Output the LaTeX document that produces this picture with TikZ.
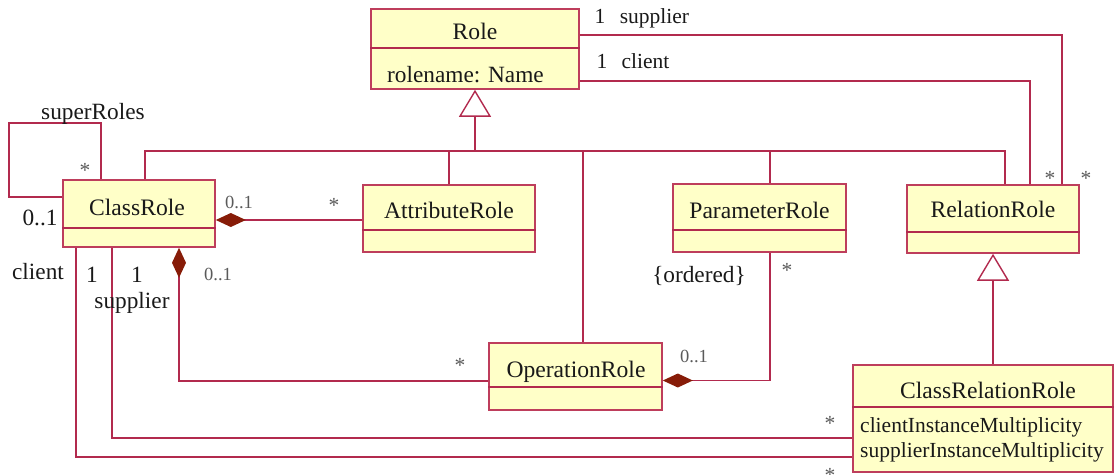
\documentclass[tikz,border=0pt]{standalone}
\usepackage{fontspec}
\setmainfont{Liberation Serif}
\usetikzlibrary{arrows.meta}
\definecolor{umlline}{RGB}{178,42,78}
\definecolor{umlborder}{RGB}{190,62,92}
\definecolor{umlfill}{RGB}{255,255,200}
\definecolor{umldiamond}{RGB}{135,28,8}
\definecolor{umltext}{RGB}{25,25,25}
\definecolor{umlmult}{RGB}{90,90,90}
\begin{document}
\begin{tikzpicture}[x=1pt,y=-1pt,
  umlbox/.style={draw=umlborder, fill=umlfill, line width=1.6pt, inner sep=0pt},
  divider/.style={draw=umlline, line width=1.4pt},
  conn/.style={draw=umlline, line width=1.4pt},
  comp/.style={conn, {Diamond[length=30pt,width=14pt,color=umldiamond,fill=umldiamond]}-},
  gen/.style={conn, -{Triangle[length=27pt,width=32pt,fill=white]}},
  cname/.style={font=\fontsize{23.6}{27}\selectfont, text=umltext, anchor=base, inner sep=0pt},
  attrtext/.style={font=\fontsize{21.5}{25}\selectfont, text=umltext, anchor=base west, inner sep=0pt},
  lbl/.style={font=\fontsize{23.3}{27}\selectfont, text=umltext, anchor=base, inner sep=0pt},
  toplbl/.style={font=\fontsize{21.5}{25}\selectfont, text=umltext, anchor=base, inner sep=0pt},
  smalllbl/.style={font=\fontsize{18.5}{22}\selectfont, text=umlmult, anchor=base, inner sep=0pt},
  star/.style={font=\fontsize{21.5}{25}\selectfont, text=umlmult, anchor=base, inner sep=0pt},
]
\useasboundingbox (0,0) rectangle (1115,474);

% ---- classes ----
\node[umlbox, minimum width=208pt, minimum height=80pt] (role) at (475,49) {};
\draw[divider] (role.west |- 0,48) -- (role.east |- 0,48);
\node[cname] (roleT) at (475,39) {Role};
\node[attrtext, font=\fontsize{23.3}{27}\selectfont] (roleA) at (387,82) {rolename: Name};

\node[umlbox, minimum width=152pt, minimum height=67pt] (classrole) at (139,213.5) {};
\draw[divider] (classrole.west |- 0,228) -- (classrole.east |- 0,228);
\node[cname] (classroleT) at (137,215) {ClassRole};

\node[umlbox, minimum width=172pt, minimum height=67pt] (attr) at (449,218.5) {};
\draw[divider] (attr.west |- 0,230) -- (attr.east |- 0,230);
\node[cname] (attrT) at (449,218) {AttributeRole};

\node[umlbox, minimum width=173pt, minimum height=68pt] (param) at (759.5,218) {};
\draw[divider] (param.west |- 0,230) -- (param.east |- 0,230);
\node[cname] (paramT) at (759.5,218) {ParameterRole};

\node[umlbox, minimum width=172pt, minimum height=68pt] (relrole) at (993,219) {};
\draw[divider] (relrole.west |- 0,232) -- (relrole.east |- 0,232);
\node[cname] (relroleT) at (993,217) {RelationRole};

\node[umlbox, minimum width=173pt, minimum height=67pt] (oprole) at (575.5,376.5) {};
\draw[divider] (oprole.west |- 0,387) -- (oprole.east |- 0,387);
\node[cname] (oproleT) at (576,377) {OperationRole};

\node[umlbox, minimum width=260pt, minimum height=107pt] (crr) at (983,418.5) {};
\draw[divider] (crr.west |- 0,407) -- (crr.east |- 0,407);
\node[cname] (crrT) at (988,398) {ClassRelationRole};
\node[attrtext] (crrA1) at (860,432) {clientInstanceMultiplicity};
\node[attrtext] (crrA2) at (860,457) {supplierInstanceMultiplicity};

% ---- generalization to Role ----
\coordinate (bus) at (475,151);
\draw[gen] (bus) -- (role.south);
\draw[conn] ([xshift=6pt]classrole.north) |- (bus) -| ([xshift=12pt]relrole.north);
\draw[conn] (bus) -| (attr.north);
\draw[conn] (bus) -| ([xshift=7.5pt]oprole.north);
\draw[conn] (bus) -| ([xshift=10.5pt]param.north);

% ---- generalization to RelationRole ----
\draw[gen] (crr.north -| relrole.south) -- (relrole.south);

% ---- supplier / client associations of Role ----
\draw[conn] ([yshift=14pt]role.east) -| ([xshift=69pt]relrole.north);
\draw[conn] ([yshift=-32pt]role.east) -| ([xshift=37pt]relrole.north);
\node[toplbl] (rs1) at (600,23) {1};
\node[toplbl] (rs2) at (654.5,23) {supplier};
\node[toplbl] (rc1) at (602,68) {1};
\node[toplbl] (rc2) at (645.5,68) {client};
\node[star] (rcs) at (1050,185) {*};
\node[star] (rss) at (1086,185) {*};

% ---- superRoles self association ----
\draw[conn] ([yshift=16.5pt]classrole.west) -| (9,123) -| ([xshift=-38pt]classrole.north);
\node[lbl] (supR) at (93,119) {superRoles};
\node[star] (supS) at (85,177) {*};
\node[lbl] (sup01) at (40,225) {0..1};

% ---- compositions ----
\draw[comp] ([yshift=-6.5pt]classrole.east) -- ([yshift=-6.5pt]classrole.east -| attr.west);
\node[smalllbl] (ca01) at (239,208) {0..1};
\node[star] (caS) at (334,212) {*};

\draw[comp] ([xshift=40pt]classrole.south) |- ([yshift=-4.5pt]oprole.west);
\node[smalllbl] (co01) at (218,280) {0..1};
\node[star] (coS) at (460,372) {*};

\draw[comp] ([yshift=-4pt]oprole.east) -| ([xshift=10.5pt]param.south);
\node[smalllbl] (po01) at (694,362) {0..1};
\node[star] (poS) at (787,277) {*};
\node[lbl] (ord) at (699,282) {\{ordered\}};

% ---- ClassRole client / supplier of ClassRelationRole ----
\draw[conn] ([xshift=-63pt]classrole.south) |- ([yshift=-38.5pt]crr.west);
\draw[conn] ([xshift=-27pt]classrole.south) |- ([yshift=-19.5pt]crr.west);
\node[lbl] (ccl) at (38,279) {client};
\node[lbl] (ccl1) at (92,282) {1};
\node[lbl] (csu1) at (137,282) {1};
\node[lbl] (csu) at (132,308) {supplier};
\node[star] (crrS1) at (830,430) {*};
\node[star] (crrS2) at (830,482) {*};
\end{tikzpicture}
\end{document}
